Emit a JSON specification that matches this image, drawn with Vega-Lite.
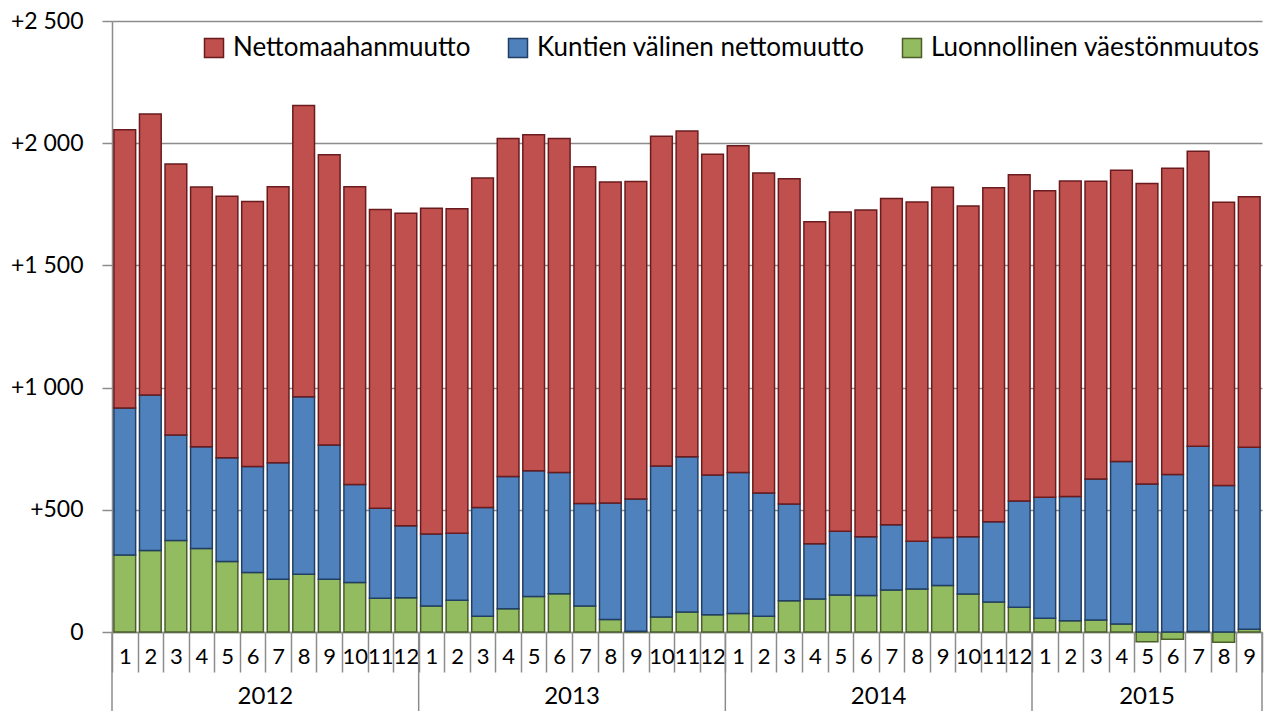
{
  "$schema": "https://vega.github.io/schema/vega-lite/v6.json",
  "width": 1150,
  "height": 611,
  "autosize": {"type": "none"},
  "padding": {"left": 112, "top": 21, "right": 4, "bottom": 79},
  "background": "white",
  "config": {"font": "Lato", "view": {"stroke": null}},
  "data": {"values": [
    {"t":"2012-01","vuosi":"2012","kk":1,"luonnollinen":315,"muutto_kuntien":602,"nettomaahanmuutto":1138},
    {"t":"2012-02","vuosi":"2012","kk":2,"luonnollinen":333,"muutto_kuntien":637,"nettomaahanmuutto":1149},
    {"t":"2012-03","vuosi":"2012","kk":3,"luonnollinen":374,"muutto_kuntien":432,"nettomaahanmuutto":1109},
    {"t":"2012-04","vuosi":"2012","kk":4,"luonnollinen":342,"muutto_kuntien":416,"nettomaahanmuutto":1063},
    {"t":"2012-05","vuosi":"2012","kk":5,"luonnollinen":288,"muutto_kuntien":425,"nettomaahanmuutto":1070},
    {"t":"2012-06","vuosi":"2012","kk":6,"luonnollinen":243,"muutto_kuntien":434,"nettomaahanmuutto":1084},
    {"t":"2012-07","vuosi":"2012","kk":7,"luonnollinen":216,"muutto_kuntien":477,"nettomaahanmuutto":1129},
    {"t":"2012-08","vuosi":"2012","kk":8,"luonnollinen":236,"muutto_kuntien":727,"nettomaahanmuutto":1191},
    {"t":"2012-09","vuosi":"2012","kk":9,"luonnollinen":216,"muutto_kuntien":549,"nettomaahanmuutto":1188},
    {"t":"2012-10","vuosi":"2012","kk":10,"luonnollinen":203,"muutto_kuntien":401,"nettomaahanmuutto":1218},
    {"t":"2012-11","vuosi":"2012","kk":11,"luonnollinen":138,"muutto_kuntien":368,"nettomaahanmuutto":1223},
    {"t":"2012-12","vuosi":"2012","kk":12,"luonnollinen":140,"muutto_kuntien":295,"nettomaahanmuutto":1278},
    {"t":"2013-01","vuosi":"2013","kk":1,"luonnollinen":106,"muutto_kuntien":295,"nettomaahanmuutto":1333},
    {"t":"2013-02","vuosi":"2013","kk":2,"luonnollinen":130,"muutto_kuntien":274,"nettomaahanmuutto":1328},
    {"t":"2013-03","vuosi":"2013","kk":3,"luonnollinen":64,"muutto_kuntien":445,"nettomaahanmuutto":1349},
    {"t":"2013-04","vuosi":"2013","kk":4,"luonnollinen":95,"muutto_kuntien":541,"nettomaahanmuutto":1383},
    {"t":"2013-05","vuosi":"2013","kk":5,"luonnollinen":145,"muutto_kuntien":515,"nettomaahanmuutto":1375},
    {"t":"2013-06","vuosi":"2013","kk":6,"luonnollinen":157,"muutto_kuntien":496,"nettomaahanmuutto":1366},
    {"t":"2013-07","vuosi":"2013","kk":7,"luonnollinen":106,"muutto_kuntien":420,"nettomaahanmuutto":1378},
    {"t":"2013-08","vuosi":"2013","kk":8,"luonnollinen":51,"muutto_kuntien":477,"nettomaahanmuutto":1313},
    {"t":"2013-09","vuosi":"2013","kk":9,"luonnollinen":3,"muutto_kuntien":541,"nettomaahanmuutto":1299},
    {"t":"2013-10","vuosi":"2013","kk":10,"luonnollinen":61,"muutto_kuntien":618,"nettomaahanmuutto":1349},
    {"t":"2013-11","vuosi":"2013","kk":11,"luonnollinen":82,"muutto_kuntien":635,"nettomaahanmuutto":1333},
    {"t":"2013-12","vuosi":"2013","kk":12,"luonnollinen":71,"muutto_kuntien":571,"nettomaahanmuutto":1313},
    {"t":"2014-01","vuosi":"2014","kk":1,"luonnollinen":76,"muutto_kuntien":577,"nettomaahanmuutto":1337},
    {"t":"2014-02","vuosi":"2014","kk":2,"luonnollinen":64,"muutto_kuntien":505,"nettomaahanmuutto":1309},
    {"t":"2014-03","vuosi":"2014","kk":3,"luonnollinen":128,"muutto_kuntien":396,"nettomaahanmuutto":1331},
    {"t":"2014-04","vuosi":"2014","kk":4,"luonnollinen":135,"muutto_kuntien":226,"nettomaahanmuutto":1318},
    {"t":"2014-05","vuosi":"2014","kk":5,"luonnollinen":151,"muutto_kuntien":261,"nettomaahanmuutto":1306},
    {"t":"2014-06","vuosi":"2014","kk":6,"luonnollinen":149,"muutto_kuntien":241,"nettomaahanmuutto":1337},
    {"t":"2014-07","vuosi":"2014","kk":7,"luonnollinen":172,"muutto_kuntien":267,"nettomaahanmuutto":1335},
    {"t":"2014-08","vuosi":"2014","kk":8,"luonnollinen":176,"muutto_kuntien":195,"nettomaahanmuutto":1388},
    {"t":"2014-09","vuosi":"2014","kk":9,"luonnollinen":190,"muutto_kuntien":197,"nettomaahanmuutto":1433},
    {"t":"2014-10","vuosi":"2014","kk":10,"luonnollinen":155,"muutto_kuntien":235,"nettomaahanmuutto":1353},
    {"t":"2014-11","vuosi":"2014","kk":11,"luonnollinen":123,"muutto_kuntien":328,"nettomaahanmuutto":1367},
    {"t":"2014-12","vuosi":"2014","kk":12,"luonnollinen":101,"muutto_kuntien":435,"nettomaahanmuutto":1335},
    {"t":"2015-01","vuosi":"2015","kk":1,"luonnollinen":56,"muutto_kuntien":495,"nettomaahanmuutto":1254},
    {"t":"2015-02","vuosi":"2015","kk":2,"luonnollinen":46,"muutto_kuntien":508,"nettomaahanmuutto":1291},
    {"t":"2015-03","vuosi":"2015","kk":3,"luonnollinen":49,"muutto_kuntien":577,"nettomaahanmuutto":1218},
    {"t":"2015-04","vuosi":"2015","kk":4,"luonnollinen":33,"muutto_kuntien":665,"nettomaahanmuutto":1191},
    {"t":"2015-05","vuosi":"2015","kk":5,"luonnollinen":-40,"muutto_kuntien":606,"nettomaahanmuutto":1229},
    {"t":"2015-06","vuosi":"2015","kk":6,"luonnollinen":-30,"muutto_kuntien":644,"nettomaahanmuutto":1253},
    {"t":"2015-07","vuosi":"2015","kk":7,"luonnollinen":2,"muutto_kuntien":758,"nettomaahanmuutto":1207},
    {"t":"2015-08","vuosi":"2015","kk":8,"luonnollinen":-42,"muutto_kuntien":599,"nettomaahanmuutto":1159},
    {"t":"2015-09","vuosi":"2015","kk":9,"luonnollinen":11,"muutto_kuntien":745,"nettomaahanmuutto":1025}
  ]},
  "layer": [
    {
      "transform": [{"fold": ["luonnollinen", "muutto_kuntien", "nettomaahanmuutto"], "as": ["sarja", "arvo"]}],
      "mark": {"type": "bar", "width": {"band": 0.85}, "strokeWidth": 1.5},
      "encoding": {
        "x": {
          "field": "t", "type": "ordinal",
          "scale": {"paddingInner": 0, "paddingOuter": 0},
          "axis": {
            "title": null, "labelAngle": 0, "labelOverlap": false,
            "labelExpr": "toNumber(split(datum.value, '-')[1])",
            "labelFontSize": 22, "labelColor": "#000000", "labelPadding": -26,
            "tickBand": "extent", "tickSize": 40, "tickColor": "#8c8c8c", "tickWidth": 1.5,
            "domainColor": "#8c8c8c", "domainWidth": 1.5, "grid": false
          }
        },
        "y": {
          "field": "arvo", "type": "quantitative", "stack": "zero",
          "scale": {"domain": [0, 2500], "nice": false},
          "axis": {
            "title": null, "values": [0, 500, 1000, 1500, 2000, 2500],
            "labelExpr": "datum.value == 0 ? '0' : '+' + replace(format(datum.value, ','), ',', ' ')",
            "labelFontSize": 23, "labelColor": "#000000", "labelPadding": 19,
            "tickSize": 10, "tickColor": "#8c8c8c", "tickWidth": 1.5,
            "domainColor": "#8c8c8c", "domainWidth": 1.5,
            "grid": true, "gridColor": "#8c8c8c", "gridWidth": 1.5
          }
        },
        "color": {
          "field": "sarja", "type": "nominal",
          "scale": {"domain": ["nettomaahanmuutto", "muutto_kuntien", "luonnollinen"], "range": ["#C0504D", "#4F81BD", "#93BC60"]},
          "legend": {
            "title": null, "orient": "none", "legendX": 89, "legendY": 14, "direction": "horizontal",
            "symbolType": "square", "symbolSize": 361, "symbolStrokeWidth": 1.5,
            "labelFontSize": 26, "labelColor": "#000000", "labelOffset": 6, "columnPadding": 34,
            "labelLimit": 500,
            "labelExpr": "datum.label == 'nettomaahanmuutto' ? 'Nettomaahanmuutto' : datum.label == 'muutto_kuntien' ? 'Kuntien välinen nettomuutto' : 'Luonnollinen väestönmuutos'"
          }
        },
        "stroke": {
          "field": "sarja", "type": "nominal",
          "scale": {"domain": ["nettomaahanmuutto", "muutto_kuntien", "luonnollinen"], "range": ["#6A1B1E", "#213F64", "#4A5E2A"]}
        },
        "order": {"field": "sarja", "sort": "ascending"}
      }
    },
    {
      "transform": [{"filter": "datum.kk == 1"}],
      "mark": {"type": "rule", "color": "#8c8c8c", "strokeWidth": 1.5},
      "encoding": {
        "x": {"field": "t", "type": "ordinal", "bandPosition": 0},
        "y": {"datum": 0, "type": "quantitative"},
        "y2": {"datum": -330}
      }
    },
    {
      "transform": [{"filter": "datum.vuosi == '2015' && datum.kk == 9"}],
      "mark": {"type": "rule", "color": "#8c8c8c", "strokeWidth": 1.5},
      "encoding": {
        "x": {"field": "t", "type": "ordinal", "bandPosition": 1},
        "y": {"datum": 0, "type": "quantitative"},
        "y2": {"datum": -330}
      }
    },
    {
      "transform": [{"filter": "datum.vuosi != '2015' && datum.kk == 6"}],
      "mark": {"type": "text", "fontSize": 24, "color": "#000000", "align": "center", "baseline": "middle"},
      "encoding": {
        "x": {"field": "t", "type": "ordinal", "bandPosition": 1},
        "y": {"datum": -268, "type": "quantitative"},
        "text": {"field": "vuosi"}
      }
    },
    {
      "transform": [{"filter": "datum.vuosi == '2015' && datum.kk == 5"}],
      "mark": {"type": "text", "fontSize": 24, "color": "#000000", "align": "center", "baseline": "middle"},
      "encoding": {
        "x": {"field": "t", "type": "ordinal", "bandPosition": 0.5},
        "y": {"datum": -268, "type": "quantitative"},
        "text": {"field": "vuosi"}
      }
    }
  ]
}
